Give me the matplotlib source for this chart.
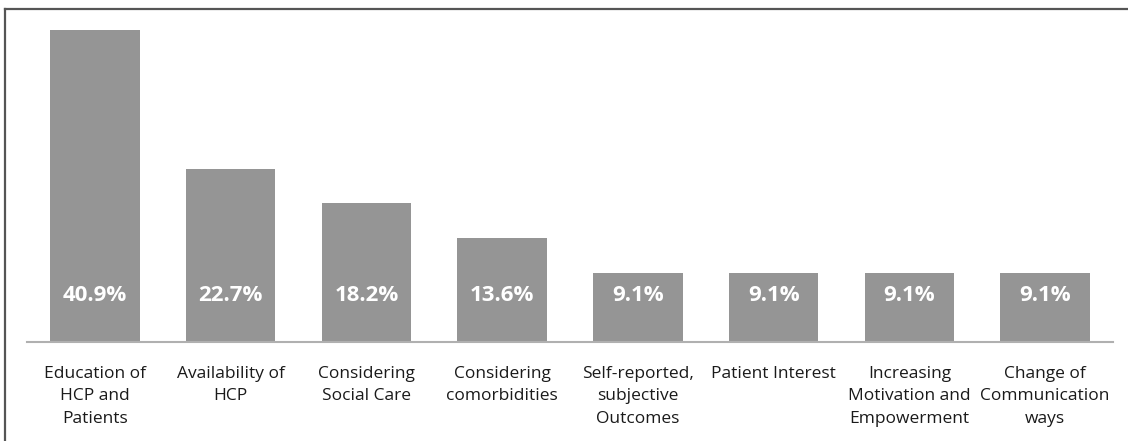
import matplotlib.pyplot as plt
from matplotlib.lines import Line2D

categories = ["Education of\nHCP and\nPatients", "Availability of\nHCP",
              "Considering\nSocial Care", "Considering\ncomorbidities",
              "Self-reported,\nsubjective\nOutcomes", "Patient Interest",
              "Increasing\nMotivation and\nEmpowerment", "Change of\nCommunication\nways"]
values = [40.9, 22.7, 18.2, 13.6, 9.1, 9.1, 9.1, 9.1]
labels = ["40.9%", "22.7%", "18.2%", "13.6%", "9.1%", "9.1%", "9.1%", "9.1%"]

W, H = 1128, 441
fig = plt.figure(figsize=(W / 100, H / 100), dpi=100)
ax = fig.add_axes([27 / W, 1 - 342 / H, (1113 - 27) / W, (342 - 30) / H])

x = range(len(values))
ax.bar(x, values, width=0.66, color='#959595', clip_on=False)
for i, lab in enumerate(labels):
    ax.text(i, 6.1, lab, ha='center', va='center', color='white',
            fontsize=16, fontweight='bold', family='Open Sans')

ax.set_xlim(-0.5, len(values) - 0.5)
ax.set_ylim(0, 40.9)
ax.set_yticks([])
ax.set_xticks(list(x))
ax.set_xticklabels(categories, fontsize=12.5, family='Open Sans', color='#1a1a1a',
                   linespacing=1.57, va='top')
ax.tick_params(axis='x', length=0, pad=17)
for s in ['top', 'right', 'left']:
    ax.spines[s].set_visible(False)
ax.spines['bottom'].set_color('#b0b0b0')
ax.spines['bottom'].set_linewidth(1.5)

# frame lines (top and left) around the chart
fig.add_artist(Line2D([5 / W, 1], [1 - 9 / H, 1 - 9 / H], transform=fig.transFigure,
                      color='#555555', linewidth=1.6))
fig.add_artist(Line2D([5 / W, 5 / W], [0, 1 - 9 / H], transform=fig.transFigure,
                      color='#555555', linewidth=1.6))

plt.savefig('out.png', dpi=100)
